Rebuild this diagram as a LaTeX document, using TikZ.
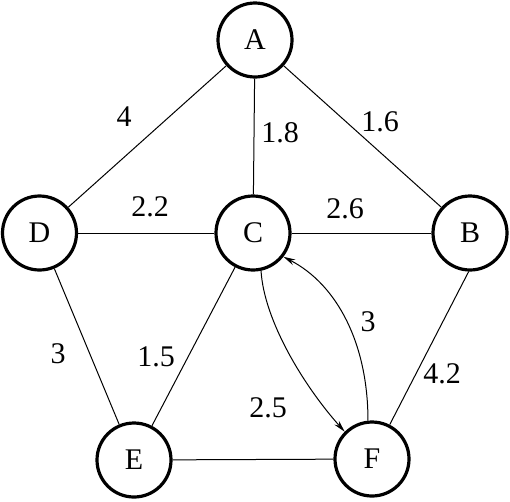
\documentclass[tikz,border=0pt]{standalone}
\usepackage{fontspec}
\setmainfont{Liberation Serif}
\usetikzlibrary{arrows.meta}
\begin{document}
\begin{tikzpicture}[x=1pt,y=-1pt,
  vertex/.style={circle,draw,line width=3.2pt,minimum size=74pt,inner sep=0pt,font=\fontsize{30}{34}\selectfont},
  lbl/.style={font=\fontsize{30}{34}\selectfont,inner sep=0pt},
  edge/.style={line width=1pt},
  arr/.style={line width=1pt,-{Stealth[length=12pt,width=6pt]}}]
\useasboundingbox (0,0) rectangle (510,501);
\node[vertex] (A) at (255,40) {A};
\node[vertex] (D) at (39.5,233) {D};
\node[vertex] (C) at (253,233) {C};
\node[vertex] (B) at (470,233) {B};
\node[vertex] (E) at (134,460) {E};
\node[vertex] (F) at (372,459) {F};
\draw[edge] (A) -- (D);
\draw[edge] (A) -- (C);
\draw[edge] (A) -- (B);
\draw[edge] (D) -- (C);
\draw[edge] (C) -- (B);
\draw[edge] (D) -- (E);
\draw[edge] (C) -- (E);
\draw[edge] (B.-92) -- (F);
\draw[edge] (E) -- (F);
\draw[arr] (C.-78) .. controls (264,320) and (303,385) .. (F.135);
\draw[arr] (F.96) .. controls (368,345) and (338,285) .. (C.-38);
\node[lbl] (l1) at (124,117) {4};
\node[lbl] (l2) at (280,133) {1.8};
\node[lbl] (l3) at (380,122) {1.6};
\node[lbl] (l4) at (150,207) {2.2};
\node[lbl] (l5) at (345,209) {2.6};
\node[lbl] (l6) at (58,354) {3};
\node[lbl] (l7) at (156,357) {1.5};
\node[lbl] (l8) at (368,322) {3};
\node[lbl] (l9) at (268,408) {2.5};
\node[lbl] (l10) at (442,374) {4.2};
\end{tikzpicture}
\end{document}
